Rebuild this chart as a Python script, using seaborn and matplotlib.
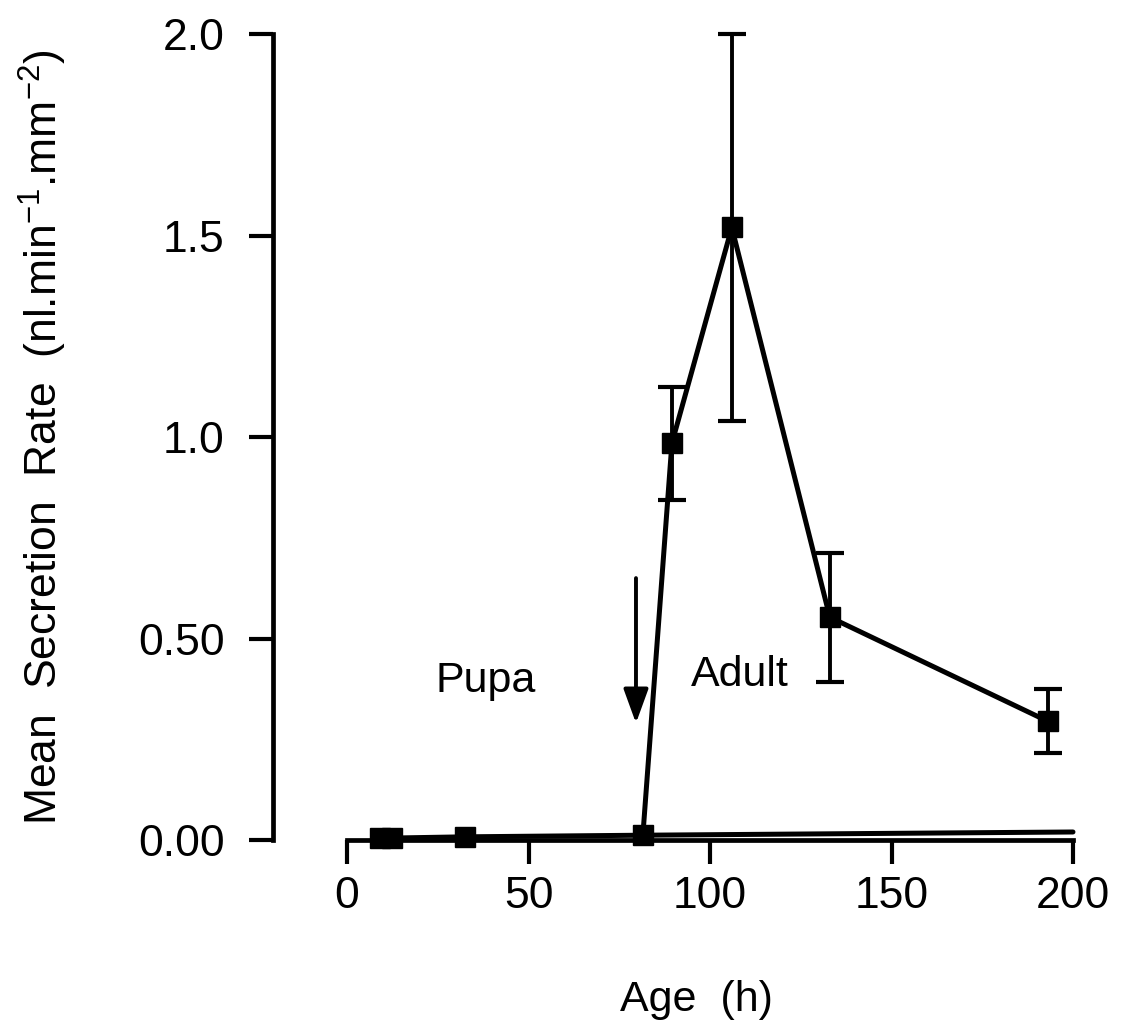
import matplotlib
matplotlib.use("Agg")
import matplotlib.pyplot as plt
import pandas as pd
import seaborn as sns

# mean secretion rate vs age
age_h = [9, 12.5, 32.5, 81.5, 89.5, 106, 133, 193]
secretion = [0.005, 0.005, 0.008, 0.012, 0.985, 1.52, 0.553, 0.295]
sem = [0, 0, 0, 0, 0.14, 0.48, 0.16, 0.08]

# pupal baseline carried on to the end of the axis
tail_age = [81.5, 200]
tail_secretion = [0.012, 0.02]

x_ticks = [0, 50, 100, 150, 200]
y_ticks = [0.0, 0.5, 1.0, 1.5, 2.0]
y_tick_labels = ["0.00", "0.50", "1.0", "1.5", "2.0"]

eclosion_age = 79.6
arrow_top, arrow_tip = 0.65, 0.29

sns.set_style("white")
plt.rcParams['font.family'] = ['Liberation Sans', 'DejaVu Sans']
plt.rcParams['mathtext.default'] = 'regular'
for key in ['text.color', 'axes.labelcolor', 'xtick.color', 'ytick.color']:
    plt.rcParams[key] = 'black'

df = pd.DataFrame({'age': age_h, 'rate': secretion, 'sem': sem})
tail = pd.DataFrame({'age': tail_age, 'rate': tail_secretion})

fig = plt.figure(figsize=(11.31, 10.32), dpi=100)
ax = fig.add_axes([0.2414, 0.186, 0.7073, 0.781])

sns.lineplot(data=tail, x='age', y='rate', color='black', lw=3.6, ax=ax,
             estimator=None, sort=False)
sns.lineplot(data=df, x='age', y='rate', color='black', lw=3.6, marker='s',
             markersize=14, markeredgecolor='black', markeredgewidth=1,
             ax=ax, estimator=None, sort=False)

# error bars only where there is a spread
err = df[df['sem'] > 0]
eb = ax.errorbar(err['age'], err['rate'], yerr=err['sem'], fmt='none',
                 ecolor='black', elinewidth=2.8, capsize=10, capthick=3)
for art in ax.get_children():
    try:
        art.set_clip_on(False)
    except AttributeError:
        pass
for part in eb.lines:
    if isinstance(part, tuple):
        for p in part:
            p.set_clip_on(False)
    elif part is not None:
        part.set_clip_on(False)

# arrow marks the pupa/adult transition
ax.annotate('', xy=(eclosion_age, arrow_tip), xytext=(eclosion_age, arrow_top),
            arrowprops=dict(arrowstyle='-|>,head_length=0.55,head_width=0.2',
                            lw=2.8, color='black', mutation_scale=38,
                            shrinkA=0, shrinkB=0))
ax.text(38.3, 0.395, 'Pupa', fontsize=31, ha='center', va='center')
ax.text(108.3, 0.409, 'Adult', fontsize=31, ha='center', va='center')

ax.set_xlim(-20.4, 200)
ax.set_ylim(0, 2.0)
ax.set_xticks(x_ticks)
ax.set_yticks(y_ticks)
ax.set_yticklabels(y_tick_labels)

ax.spines['top'].set_visible(False)
ax.spines['right'].set_visible(False)
ax.spines['left'].set_bounds(0, 2.0)
ax.spines['bottom'].set_bounds(0, 200)
for s in ['left', 'bottom']:
    ax.spines[s].set_linewidth(3.4)
    ax.spines[s].set_color('black')

ax.tick_params(axis='y', direction='out', length=17, width=3, pad=18,
               labelsize=32, left=True)
ax.tick_params(axis='x', direction='out', length=17, width=3, pad=9,
               labelsize=32, bottom=True)

ax.set_xlabel('Age  (h)', fontsize=31)
ax.set_ylabel('Mean  Secretion  Rate  (nl.min$^{-1}$.mm$^{-2}$)', fontsize=32)
ax.xaxis.set_label_coords(0.529, -0.174)
ax.yaxis.set_label_coords(-0.255, 0.5)

fig.savefig('out.png', dpi=100)
